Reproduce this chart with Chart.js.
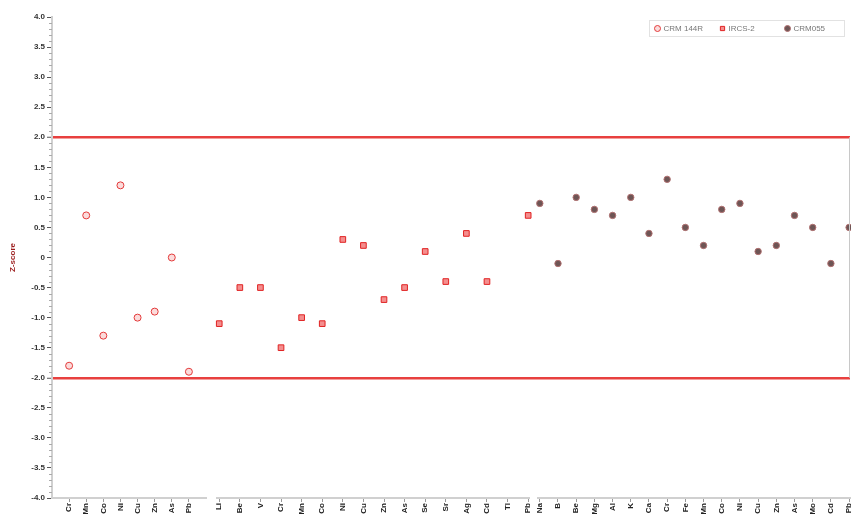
<!DOCTYPE html>
<html>
<head>
<meta charset="utf-8">
<script src="https://cdn.jsdelivr.net/npm/chart.js@4.4.0/dist/chart.umd.min.js"></script>
<style>
  html, body { margin: 0; padding: 0; background: #fff; }
  #wrap { width: 851px; height: 519px; }
</style>
</head>
<body>
<div id="wrap"><canvas id="grafico"></canvas></div>
<script>
// Elementos e Z-scores de cada material de referência
const elementosCRM144 = ['Cr', 'Mn', 'Co', 'Ni', 'Cu', 'Zn', 'As', 'Pb'];
const zCRM144 = [-1.8, 0.7, -1.3, 1.2, -1.0, -0.9, 0.0, -1.9];

const elementosIRCS = ['Li', 'Be', 'V', 'Cr', 'Mn', 'Co', 'Ni', 'Cu', 'Zn', 'As', 'Se', 'Sr', 'Ag', 'Cd', 'Tl', 'Pb'];
const zIRCS = [-1.1, -0.5, -0.5, -1.5, -1.0, -1.1, 0.3, 0.2, -0.7, -0.5, 0.1, -0.4, 0.4, -0.4, null, 0.7];

const elementosCRM055 = ['Na', 'B', 'Be', 'Mg', 'Al', 'K', 'Ca', 'Cr', 'Fe', 'Mn', 'Co', 'Ni', 'Cu', 'Zn', 'As', 'Mo', 'Cd', 'Pb'];
const zCRM055 = [0.9, -0.1, 1.0, 0.8, 0.7, 1.0, 0.4, 1.3, 0.5, 0.2, 0.8, 0.9, 0.1, 0.2, 0.7, 0.5, -0.1, 0.5];

const nomesSeries = ['CRM 144R', 'IRCS-2', 'CRM055'];
const limiteZ = 2;
const yMin = -4, yMax = 4, yPasso = 0.5, yPassoMenor = 0.1;

// trechos do eixo x (fração da largura da área do gráfico)
const trechos = { x: [0, 0.193], x2: [0.207, 0.598], x3: [0.609, 1] };

const pontos = (valores) => valores.map((v, i) => ({ x: i, y: v }));

function eixoX(elementos, min, max, escondido) {
    return {
        type: 'linear',
        position: 'bottom',
        min: min,
        max: max,
        afterBuildTicks: (s) => {
            s.ticks = elementos.map((_, i) => ({ value: i }));
        },
        afterFit: (s) => {
            s.height = escondido ? 0 : 21;
            s.paddingLeft = 0;
            s.paddingRight = 0;
        },
        border: { color: '#d0d0d0', width: 2 },
        grid: { drawOnChartArea: false, drawTicks: true, tickLength: 4, tickColor: '#999', tickWidth: 1 },
        ticks: {
            autoSkip: false,
            minRotation: 90,
            maxRotation: 90,
            padding: 1,
            color: '#222',
            font: { family: 'Liberation Sans', size: 8, weight: 'bold' },
            callback: (v) => elementos[v] ?? ''
        }
    };
}

const ajustes = {
    id: 'ajustes',
    afterLayout(chart) {
        const a = chart.chartArea;
        const base = chart.scales.x;
        const w = a.right - a.left;
        for (const id of ['x', 'x2', 'x3']) {
            const s = chart.scales[id];
            s.left = a.left + trechos[id][0] * w;
            s.right = a.left + trechos[id][1] * w;
            s.width = s.right - s.left;
            s.top = base.top;
            s.bottom = base.top + 21;
            s.height = 21;
            s.configure();
        }
    },
    afterDraw(chart) {
        const ctx = chart.ctx;
        const y = chart.scales.y;
        const a = chart.chartArea;
        ctx.save();
        // marcas menores do eixo y
        ctx.strokeStyle = '#aaa';
        ctx.lineWidth = 1;
        for (let v = yMin; v <= yMax + 1e-9; v += yPassoMenor) {
            const r = Math.round(v * 10) / 10;
            if (Math.abs(r / yPasso - Math.round(r / yPasso)) < 1e-6) continue;
            const py = Math.round(y.getPixelForValue(r)) + 0.5;
            ctx.beginPath();
            ctx.moveTo(a.left - 3, py);
            ctx.lineTo(a.left, py);
            ctx.stroke();
        }
        // borda direita entre os limites
        ctx.strokeStyle = '#c8c8c8';
        ctx.beginPath();
        ctx.moveTo(a.right - 0.5, y.getPixelForValue(limiteZ));
        ctx.lineTo(a.right - 0.5, y.getPixelForValue(-limiteZ));
        ctx.stroke();

        // legenda desenhada à mão (horizontal, dentro da área do gráfico)
        const bx = Math.round(a.right - 201) + 0.5;
        const by = Math.round(a.top + 3) + 0.5;
        ctx.strokeStyle = '#e2e2e2';
        ctx.strokeRect(bx, by, 195, 16);
        ctx.font = '8px "Liberation Sans"';
        ctx.textBaseline = 'middle';
        ctx.textAlign = 'left';
        chart.data.datasets.forEach((ds, i) => {
            const px = bx + 8 + i * 65;
            const py = by + 8;
            ctx.fillStyle = ds.backgroundColor;
            ctx.strokeStyle = ds.borderColor;
            ctx.lineWidth = 1;
            Chart.helpers.drawPoint(ctx, { pointStyle: ds.pointStyle, radius: 3, borderWidth: 1, rotation: 0 }, px, py);
            ctx.fillStyle = '#777';
            ctx.fillText(ds.label, px + 6, py + 0.5);
        });
        ctx.restore();
    }
};

const ctx = document.getElementById('grafico').getContext('2d');
new Chart(ctx, {
    type: 'scatter',
    data: {
        datasets: [
            {
                label: nomesSeries[0],
                data: pontos(zCRM144),
                xAxisID: 'x',
                clip: false,
                pointStyle: 'circle',
                pointRadius: 3.5,
                borderWidth: 1,
                borderColor: '#e33a3a',
                backgroundColor: 'rgba(240,110,110,0.25)'
            },
            {
                label: nomesSeries[1],
                data: pontos(zIRCS),
                xAxisID: 'x2',
                clip: false,
                pointStyle: 'rect',
                pointRadius: 4,
                borderWidth: 1,
                borderColor: '#e02222',
                backgroundColor: 'rgba(235,50,50,0.55)'
            },
            {
                label: nomesSeries[2],
                data: pontos(zCRM055),
                xAxisID: 'x3',
                clip: false,
                pointStyle: 'circle',
                pointRadius: 3.2,
                borderWidth: 1,
                borderColor: '#b07070',
                backgroundColor: '#6e5555'
            }
        ]
    },
    options: {
        responsive: true,
        maintainAspectRatio: false,
        animation: false,
        layout: { autoPadding: false, padding: { top: 17, right: 1, left: 0, bottom: 0 } },
        plugins: {
            tooltip: { enabled: false },
            legend: { display: false }
        },
        scales: {
            x: eixoX(elementosCRM144, -1, elementosCRM144.length),
            x2: eixoX(elementosIRCS, -0.1, elementosIRCS.length - 0.95, true),
            x3: eixoX(elementosCRM055, -0.1, elementosCRM055.length - 0.95, true),
            y: {
                type: 'linear',
                min: yMin,
                max: yMax,
                afterFit: (s) => {
                    s.width = 52;
                    s.paddingTop = 0;
                    s.paddingBottom = 0;
                },
                border: { color: '#d0d0d0', width: 2 },
                title: {
                    display: true,
                    text: 'Z-score',
                    color: '#9b1c1c',
                    padding: { top: 8, bottom: 4 },
                    font: { family: 'Liberation Sans', size: 8, weight: 'bold' }
                },
                grid: {
                    color: (c) => (c.tick && Math.abs(Math.abs(c.tick.value) - limiteZ) < 1e-9) ? '#e8403f' : 'rgba(0,0,0,0)',
                    lineWidth: (c) => (c.tick && Math.abs(Math.abs(c.tick.value) - limiteZ) < 1e-9) ? 2.5 : 1,
                    tickColor: '#555',
                    tickWidth: 1,
                    tickLength: 5
                },
                ticks: {
                    stepSize: yPasso,
                    autoSkip: false,
                    padding: 2,
                    color: '#333',
                    font: { family: 'Liberation Sans', size: 8, weight: 'bold' },
                    callback: (v) => v === 0 ? '0' : v.toFixed(1)
                }
            }
        }
    },
    plugins: [ajustes]
});
</script>
</body>
</html>
